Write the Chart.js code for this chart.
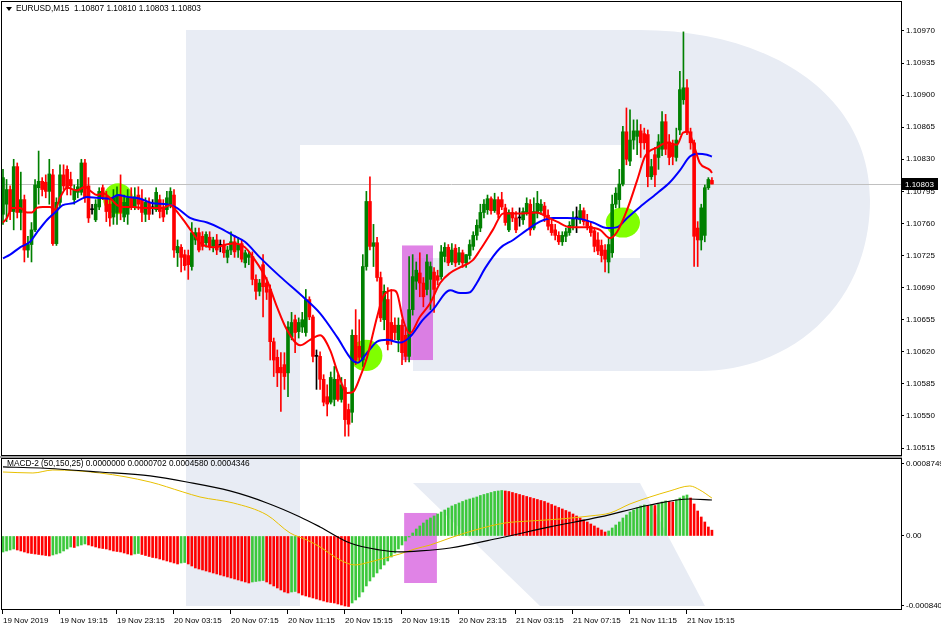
<!DOCTYPE html>
<html>
<head>
<meta charset="utf-8">
<script src="https://cdn.jsdelivr.net/npm/chart.js@4.4.0/dist/chart.umd.min.js"></script>
<style>
  html, body { margin: 0; padding: 0; background: #fff; }
  #wrap { position: relative; width: 941px; height: 630px; overflow: hidden; }
  #wrap svg, #wrap canvas, #sep { position: absolute; left: 0; }
  #priceChart { top: 0; }
  #macdChart { top: 456px; }
  #sep { top: 456px; width: 902px; height: 2px; background: #a0a0a0; }
</style>
</head>
<body>
<div id="wrap">
  <!-- light logo watermark behind the chart -->
  <svg width="941" height="630" style="top:0">
    <path d="M186,30 H640 C770,30 870,95 870,200 C870,305 790,371 700,371 H413 V258 H640 V145 H300 V606 H186 Z" fill="#e8ecf4"/>
    <path d="M413,483 H640 L705,606 H540 Z" fill="#e8ecf4"/>
  </svg>
  <div id="sep"></div>
  <canvas id="priceChart" width="941" height="456"></canvas>
  <canvas id="macdChart" width="941" height="174"></canvas>
</div>
<script>
// EURUSD M15 candles, one entry per bar (bar 0 = 19 Nov 2019 15:15)
const barOpen = [1.10770,1.10781,1.10797,1.10773,1.10822,1.10772,1.10786,1.10731,1.10737,1.10753,1.10799,1.10806,1.10805,1.10795,1.10813,1.10738,1.10783,1.10813,1.10819,1.10808,
1.10786,1.10794,1.10794,1.10826,1.10801,1.10775,1.10764,1.10778,1.10799,1.10789,1.10781,1.10767,1.10772,1.10791,1.10767,1.10770,1.10788,1.10778,1.10791,1.10786,
1.10770,1.10783,1.10777,1.10775,1.10786,1.10778,1.10775,1.10781,1.10791,1.10728,1.10734,1.10726,1.10725,1.10713,1.10742,1.10750,1.10746,1.10739,1.10745,1.10735,
1.10742,1.10736,1.10737,1.10723,1.10731,1.10740,1.10731,1.10738,1.10717,1.10723,1.10724,1.10699,1.10686,1.10715,1.10695,1.10688,1.10631,1.10614,1.10603,1.10606,
1.10597,1.10636,1.10655,1.10642,1.10647,1.10641,1.10677,1.10658,1.10615,1.10615,1.10590,1.10571,1.10565,1.10568,1.10590,1.10568,1.10581,1.10557,1.10554,1.10638,
1.10626,1.10611,1.10713,1.10784,1.10735,1.10739,1.10701,1.10655,1.10677,1.10652,1.10649,1.10633,1.10649,1.10638,1.10615,1.10666,1.10697,1.10706,1.10695,1.10688,
1.10699,1.10707,1.10703,1.10702,1.10724,1.10734,1.10718,1.10733,1.10718,1.10728,1.10717,1.10725,1.10735,1.10747,1.10755,1.10772,1.10775,1.10787,1.10774,1.10786,
1.10786,1.10777,1.10753,1.10772,1.10766,1.10766,1.10764,1.10772,1.10781,1.10755,1.10771,1.10774,1.10779,1.10769,1.10759,1.10753,1.10747,1.10740,1.10746,1.10750,
1.10757,1.10766,1.10764,1.10774,1.10763,1.10757,1.10752,1.10742,1.10736,1.10731,1.10718,1.10728,1.10781,1.10786,1.10803,1.10860,1.10828,1.10851,1.10855,1.10861,
1.10858,1.10857,1.10811,1.10835,1.10832,1.10841,1.10871,1.10849,1.10846,1.10832,1.10862,1.10895,1.10908,1.10860,1.10848,1.10755,1.10742,1.10747,1.10799,1.10807];
const barHigh = [1.10819,1.10808,1.10801,1.10830,1.10826,1.10816,1.10791,1.10746,1.10761,1.10808,1.10839,1.10810,1.10813,1.10830,1.10819,1.10788,1.10824,1.10824,1.10823,1.10816,
1.10802,1.10808,1.10830,1.10830,1.10810,1.10781,1.10786,1.10799,1.10802,1.10795,1.10788,1.10797,1.10800,1.10813,1.10791,1.10797,1.10799,1.10799,1.10800,1.10797,
1.10788,1.10788,1.10786,1.10799,1.10791,1.10786,1.10795,1.10799,1.10797,1.10742,1.10737,1.10731,1.10731,1.10761,1.10755,1.10755,1.10751,1.10751,1.10751,1.10745,
1.10748,1.10742,1.10742,1.10735,1.10751,1.10747,1.10745,1.10742,1.10731,1.10729,1.10729,1.10704,1.10699,1.10726,1.10701,1.10693,1.10635,1.10622,1.10619,1.10619,
1.10653,1.10663,1.10660,1.10657,1.10663,1.10688,1.10680,1.10660,1.10622,1.10620,1.10595,1.10584,1.10598,1.10604,1.10595,1.10592,1.10590,1.10563,1.10644,1.10666,
1.10655,1.10726,1.10795,1.10811,1.10759,1.10745,1.10707,1.10693,1.10690,1.10688,1.10657,1.10657,1.10655,1.10646,1.10724,1.10726,1.10718,1.10728,1.10701,1.10726,
1.10718,1.10712,1.10709,1.10736,1.10739,1.10737,1.10738,1.10737,1.10734,1.10731,1.10726,1.10742,1.10751,1.10764,1.10781,1.10786,1.10791,1.10789,1.10793,1.10789,
1.10794,1.10781,1.10775,1.10777,1.10773,1.10777,1.10777,1.10788,1.10786,1.10788,1.10795,1.10786,1.10783,1.10775,1.10764,1.10759,1.10751,1.10751,1.10755,1.10762,
1.10773,1.10778,1.10781,1.10777,1.10770,1.10762,1.10755,1.10750,1.10742,1.10737,1.10745,1.10791,1.10799,1.10819,1.10866,1.10886,1.10884,1.10873,1.10873,1.10868,
1.10864,1.10862,1.10830,1.10843,1.10857,1.10882,1.10879,1.10857,1.10851,1.10864,1.10926,1.10969,1.10917,1.10864,1.10851,1.10762,1.10781,1.10802,1.10810,1.10810];
const barLow = [1.10759,1.10762,1.10764,1.10753,1.10766,1.10753,1.10718,1.10723,1.10718,1.10751,1.10781,1.10790,1.10788,1.10781,1.10736,1.10736,1.10778,1.10797,1.10791,1.10791,
1.10781,1.10788,1.10791,1.10783,1.10761,1.10770,1.10762,1.10775,1.10786,1.10762,1.10757,1.10759,1.10759,1.10764,1.10762,1.10759,1.10775,1.10775,1.10775,1.10762,
1.10762,1.10764,1.10770,1.10773,1.10766,1.10762,1.10770,1.10777,1.10723,1.10713,1.10707,1.10709,1.10699,1.10709,1.10737,1.10729,1.10731,1.10734,1.10731,1.10729,
1.10726,1.10729,1.10723,1.10717,1.10726,1.10723,1.10723,1.10718,1.10712,1.10715,1.10693,1.10677,1.10681,1.10658,1.10677,1.10611,1.10593,1.10582,1.10555,1.10579,
1.10571,1.10633,1.10619,1.10635,1.10641,1.10637,1.10655,1.10609,1.10579,1.10579,1.10561,1.10550,1.10563,1.10561,1.10566,1.10565,1.10528,1.10528,1.10543,1.10606,
1.10609,1.10604,1.10709,1.10731,1.10713,1.10697,1.10653,1.10644,1.10622,1.10628,1.10633,1.10620,1.10606,1.10609,1.10609,1.10660,1.10688,1.10680,1.10669,1.10682,
1.10666,1.10663,1.10693,1.10699,1.10718,1.10714,1.10715,1.10713,1.10715,1.10712,1.10712,1.10721,1.10731,1.10742,1.10751,1.10766,1.10770,1.10770,1.10772,1.10766,
1.10775,1.10758,1.10751,1.10762,1.10750,1.10757,1.10759,1.10769,1.10747,1.10753,1.10766,1.10770,1.10762,1.10753,1.10747,1.10742,1.10737,1.10736,1.10740,1.10747,
1.10753,1.10750,1.10760,1.10758,1.10753,1.10746,1.10729,1.10726,1.10718,1.10707,1.10706,1.10723,1.10777,1.10777,1.10801,1.10824,1.10823,1.10841,1.10835,1.10832,
1.10841,1.10800,1.10808,1.10800,1.10819,1.10834,1.10835,1.10824,1.10824,1.10828,1.10857,1.10890,1.10857,1.10841,1.10713,1.10713,1.10731,1.10740,1.10797,1.10803];
const barClose = [1.10810,1.10797,1.10773,1.10822,1.10772,1.10786,1.10731,1.10737,1.10753,1.10802,1.10806,1.10797,1.10795,1.10814,1.10738,1.10783,1.10813,1.10801,1.10799,1.10801,
1.10797,1.10800,1.10826,1.10788,1.10766,1.10775,1.10781,1.10795,1.10789,1.10773,1.10766,1.10788,1.10791,1.10772,1.10783,1.10788,1.10778,1.10789,1.10781,1.10772,
1.10783,1.10770,1.10777,1.10794,1.10773,1.10767,1.10788,1.10795,1.10731,1.10735,1.10723,1.10714,1.10715,1.10750,1.10750,1.10731,1.10735,1.10748,1.10735,1.10742,
1.10731,1.10736,1.10728,1.10731,1.10740,1.10729,1.10737,1.10721,1.10728,1.10726,1.10699,1.10686,1.10695,1.10691,1.10685,1.10631,1.10611,1.10597,1.10597,1.10593,
1.10647,1.10652,1.10641,1.10652,1.10655,1.10677,1.10658,1.10615,1.10615,1.10590,1.10565,1.10563,1.10592,1.10590,1.10568,1.10584,1.10546,1.10541,1.10638,1.10611,
1.10614,1.10713,1.10784,1.10735,1.10739,1.10701,1.10657,1.10686,1.10628,1.10633,1.10641,1.10649,1.10619,1.10615,1.10666,1.10702,1.10709,1.10695,1.10680,1.10718,
1.10713,1.10688,1.10698,1.10729,1.10734,1.10717,1.10731,1.10717,1.10728,1.10717,1.10726,1.10737,1.10747,1.10758,1.10772,1.10781,1.10787,1.10774,1.10786,1.10770,
1.10778,1.10761,1.10772,1.10766,1.10753,1.10766,1.10773,1.10782,1.10753,1.10773,1.10782,1.10781,1.10769,1.10757,1.10750,1.10747,1.10740,1.10747,1.10751,1.10758,
1.10765,1.10766,1.10774,1.10762,1.10757,1.10750,1.10735,1.10730,1.10725,1.10721,1.10737,1.10781,1.10793,1.10803,1.10860,1.10830,1.10851,1.10861,1.10861,1.10848,
1.10848,1.10811,1.10822,1.10813,1.10849,1.10871,1.10841,1.10832,1.10833,1.10851,1.10906,1.10908,1.10860,1.10848,1.10746,1.10742,1.10777,1.10799,1.10808,1.10803];

// moving averages: [bar position, price]
const fastMaBars = [0,1.1,2.5,4.8,6.7,8.1,9.5,11.2,13.2,14.6,16,18,20.8,23,24.4,26.4,28.1,30,32,33.7,36.5,39.3,42.1,44.9,46.9,47.7,50.2,53,55.3,59,
64.6,67.9,70.2,74.1,76.9,79.7,83.4,86.2,89,91.8,94,96.6,98.2,100.2,102.2,105,106.7,109.5,110.6,112.3,114.2,117,119.9,122.7,125.5,128.3,131.9,133.9,137.5,140.4,
146,149.9,152.7,155.5,159.2,163.9,167.6,170.4,172.4,175.2,178,180.2,183.6,186.4,189.2,190.9,192.3,193.7,195.6,198.5,199];
const fastMaVals = [1.10761,1.10766,1.10777,1.10777,1.10772,1.10772,1.10777,1.10778,1.10778,1.10775,1.10788,1.10799,1.10796,1.10800,1.10796,1.10791,1.10793,1.10788,1.10780,1.10778,
1.10778,1.10777,1.10777,1.10777,1.10780,1.10778,1.10766,1.10751,1.10739,1.10734,1.10738,1.10734,1.10723,1.10698,1.10669,1.10644,1.10627,1.10633,1.10638,1.10622,
1.10597,1.10575,1.10576,1.10592,1.10614,1.10658,1.10680,1.10687,1.10684,1.10655,1.10640,1.10658,1.10673,1.10695,1.10706,1.10712,1.10720,1.10731,1.10753,1.10771,
1.10771,1.10772,1.10767,1.10762,1.10756,1.10756,1.10753,1.10744,1.10751,1.10775,1.10807,1.10833,1.10843,1.10848,1.10846,1.10859,1.10860,1.10848,1.10826,1.10818,1.10815];
const slowMaBars = [0,2,4.8,7.6,9.5,12.4,14.6,16.8,19.6,23.6,26.4,30,32.3,34.8,38.5,42.1,46,48.8,52.5,57.3,60.9,64.6,67.9,72.1,77.8,84.2,89,93.8,98,99.6,
102.2,105,107.8,111.4,114.2,117.9,120.7,125.5,128.3,131.1,133,135.3,139.5,143.2,147.1,150.7,154.4,158.3,162,165.6,169.5,172.4,175.2,178.8,183.6,187.2,190,192.8,194.8,197.6,199];
const slowMaVals = [1.10722,1.10726,1.10734,1.10740,1.10750,1.10764,1.10772,1.10780,1.10782,1.10789,1.10788,1.10787,1.10791,1.10789,1.10787,1.10782,1.10781,1.10777,1.10766,1.10761,
1.10755,1.10747,1.10740,1.10723,1.10702,1.10680,1.10662,1.10636,1.10611,1.10608,1.10619,1.10631,1.10633,1.10630,1.10636,1.10655,1.10666,1.10687,1.10684,1.10685,
1.10695,1.10711,1.10733,1.10742,1.10753,1.10762,1.10766,1.10766,1.10765,1.10761,1.10755,1.10756,1.10766,1.10778,1.10793,1.10805,1.10818,1.10833,1.10836,1.10835,1.10833];

// MACD-2 (50,150,25) histogram, one value per bar
const macdHist = [-0.0001933,-0.0001812,-0.0001691,-0.0001570,-0.0001691,-0.0001812,-0.0001933,-0.0002054,-0.0002114,-0.0002174,
-0.0002235,-0.0002295,-0.0002356,-0.0002416,-0.0002295,-0.0002174,-0.0002054,-0.0001812,-0.0001570,-0.0001329,
-0.0001389,-0.0001208,-0.0001087,-0.0000966,-0.0001087,-0.0001208,-0.0001329,-0.0001450,-0.0001510,-0.0001570,
-0.0001691,-0.0001812,-0.0001872,-0.0001933,-0.0002054,-0.0002174,-0.0002295,-0.0002174,-0.0002114,-0.0002235,
-0.0002356,-0.0002476,-0.0002597,-0.0002658,-0.0002778,-0.0002899,-0.0003020,-0.0003141,-0.0003262,-0.0003382,
-0.0003262,-0.0003201,-0.0003382,-0.0003624,-0.0003866,-0.0003986,-0.0004107,-0.0004228,-0.0004349,-0.0004470,
-0.0004590,-0.0004711,-0.0004832,-0.0004953,-0.0005074,-0.0005194,-0.0005315,-0.0005436,-0.0005557,-0.0005678,
-0.0005557,-0.0005496,-0.0005436,-0.0005376,-0.0005557,-0.0005798,-0.0006040,-0.0006282,-0.0006523,-0.0006765,
-0.0006886,-0.0006765,-0.0006704,-0.0006886,-0.0007127,-0.0007248,-0.0007369,-0.0007490,-0.0007610,-0.0007731,
-0.0007852,-0.0007973,-0.0008033,-0.0008094,-0.0008214,-0.0008335,-0.0008456,-0.0008516,-0.0008094,-0.0007731,
-0.0007369,-0.0006765,-0.0006040,-0.0005436,-0.0004953,-0.0004470,-0.0003986,-0.0003503,-0.0003020,-0.0002537,
-0.0002054,-0.0001570,-0.0001087,-0.0000604,-0.0000121,0.0000362,0.0000846,0.0001208,0.0001570,0.0001933,
0.0002174,0.0002416,0.0002658,0.0002899,0.0003141,0.0003382,0.0003624,0.0003805,0.0003986,0.0004168,
0.0004349,0.0004470,0.0004590,0.0004711,0.0004892,0.0005013,0.0005134,0.0005255,0.0005376,0.0005436,
0.0005496,0.0005436,0.0005376,0.0005255,0.0005134,0.0005013,0.0004892,0.0004772,0.0004651,0.0004530,
0.0004409,0.0004288,0.0004168,0.0003986,0.0003805,0.0003624,0.0003443,0.0003262,0.0003080,0.0002899,
0.0002658,0.0002416,0.0002174,0.0001933,0.0001691,0.0001450,0.0001208,0.0000966,0.0000725,0.0000483,
0.0000604,0.0000966,0.0001329,0.0001691,0.0002174,0.0002537,0.0002899,0.0003141,0.0003382,0.0003624,
0.0003745,0.0003684,0.0003745,0.0003684,0.0003866,0.0004107,0.0004228,0.0004168,0.0004107,0.0004349,
0.0004590,0.0004832,0.0004953,0.0004590,0.0003866,0.0003020,0.0002295,0.0001691,0.0001087,0.0000702];
const macdBars = [0,8.4,14,27.2,41.3,50.5,55.3,64.6,74.1,80.6,85.3,89,94.6,98.8,103,107.2,111.4,115.6,119.9,125.5,132.5,140.9,147.9,156.4,164.8,170.4,176,181.6,187.2,192.8,195.6,199];
const macdVals = [0.000773,0.000761,0.000797,0.000761,0.000652,0.000532,0.000471,0.000399,0.000254,0.000036,-0.000048,-0.000133,-0.000290,-0.000350,-0.000314,-0.000266,
-0.000217,-0.000157,-0.000109,-0.000024,0.000072,0.000157,0.000181,0.000205,0.000242,0.000278,0.000387,0.000471,0.000544,0.000604,0.000556,0.000458];
const signalBars = [0,10.4,27.2,41.3,51.6,63.7,74.1,83.4,89,97.4,105.8,111.4,117.1,125.5,139.5,153.5,167.6,181.6,192.8,199];
const signalVals = [0.000834,0.000821,0.000773,0.000725,0.000652,0.000544,0.000399,0.000230,0.000109,-0.000085,-0.000169,-0.000193,-0.000181,-0.000145,-0.000024,0.000109,0.000230,0.000374,0.000447,0.0004346];

// axis ticks
const priceTicks = [1.10515,1.10550,1.10585,1.10620,1.10655,1.10690,1.10725,1.10760,1.10795,1.10830,1.10865,1.10900,1.10935,1.10970];
const macdTicks = [-0.000840, 0, 0.0008749];
const macdTickLabels = ['-0.000840', '0.00', '0.0008749'];
const timeTickBars = [0,16,32,48,64,80,96,112,128,144,160,176,192];
const timeTickLabels = ['19 Nov 2019','19 Nov 19:15','19 Nov 23:15','20 Nov 03:15','20 Nov 07:15','20 Nov 11:15',
  '20 Nov 15:15','20 Nov 19:15','20 Nov 23:15','21 Nov 03:15','21 Nov 07:15','21 Nov 11:15','21 Nov 15:15'];

const priceTitle = 'EURUSD,M15  1.10807 1.10810 1.10803 1.10803';
const macdTitle = 'MACD-2 (50,150,25) 0.0000000 0.0000702 0.0004580 0.0004346';
const lastPrice = 1.10803;

const bullColor = '#008000';
const bearColor = '#ff0000';
const histUp = '#3cc83c';
const histDown = '#ff0000';

Chart.defaults.font.family = "Tahoma, 'Liberation Sans', Arial, sans-serif";
Chart.defaults.font.size = 8;
Chart.defaults.color = '#000';

const barIndex = barOpen.map((_, i) => i);
const candleColor = i => barClose[i] > barOpen[i] ? bullColor : (barClose[i] < barOpen[i] ? bearColor : '#000');
const xMin = -0.28, xMax = 252.07;

function pts(xs, ys) { return xs.map((b, i) => ({ x: b, y: ys[i] })); }
// keep the plot area where the panel frame is, labels may overhang
function noPad(s) { s.paddingTop = 0; s.paddingBottom = 0; s.paddingLeft = 0; s.paddingRight = 0; }

// marks drawn on the price panel behind the candles
const priceOverlay = {
  id: 'priceOverlay',
  beforeDatasetsDraw(chart) {
    const { ctx, chartArea: a, scales: { x, y } } = chart;
    ctx.save();
    const py = Math.round(y.getPixelForValue(lastPrice)) + 0.5;
    ctx.strokeStyle = '#c0c0c0';
    ctx.lineWidth = 1;
    ctx.beginPath(); ctx.moveTo(a.left, py); ctx.lineTo(a.right, py); ctx.stroke();

    ctx.fillStyle = 'rgba(214,90,222,0.75)';
    const x0 = x.getPixelForValue(112), x1 = x.getPixelForValue(120.7);
    const y0 = y.getPixelForValue(1.10736), y1 = y.getPixelForValue(1.10611);
    ctx.fillRect(x0, y0, x1 - x0, y1 - y0);

    ctx.fillStyle = 'rgb(128,255,0)';
    [[32.3, 1.10787, 4.2, 0.000170], [101.9, 1.10616, 4.6, 0.000170], [174, 1.10761, 4.8, 0.000164]].forEach(([b, p, rb, rp]) => {
      const cx = x.getPixelForValue(b), cy = y.getPixelForValue(p);
      const rx = x.getPixelForValue(b + rb) - cx, ry = cy - y.getPixelForValue(p + rp);
      ctx.beginPath(); ctx.ellipse(cx, cy, rx, ry, 0, 0, Math.PI * 2); ctx.fill();
    });
    ctx.restore();
  },
  afterDraw(chart) {
    const { ctx, chartArea: a, scales: { y } } = chart;
    ctx.save();
    ctx.strokeStyle = '#000';
    ctx.lineWidth = 1;
    ctx.strokeRect(a.left - 0.5, a.top - 0.5, a.right - a.left + 1, a.bottom - a.top + 1);
    // title
    ctx.fillStyle = '#000';
    ctx.beginPath(); ctx.moveTo(6, 7); ctx.lineTo(12, 7); ctx.lineTo(9, 11); ctx.closePath(); ctx.fill();
    ctx.font = "8.3px Tahoma, 'Liberation Sans', Arial, sans-serif";
    ctx.textBaseline = 'middle';
    ctx.textAlign = 'left';
    ctx.fillText(priceTitle, 16, 9);
    // current price box
    const py = Math.round(y.getPixelForValue(lastPrice));
    ctx.fillRect(a.right + 1, py - 6, 36, 12);
    ctx.fillStyle = '#fff';
    ctx.font = "8px Tahoma, 'Liberation Sans', Arial, sans-serif";
    ctx.fillText(lastPrice.toFixed(5), a.right + 4, py + 0.5);
    ctx.restore();
  }
};

const macdOverlay = {
  id: 'macdOverlay',
  beforeDatasetsDraw(chart) {
    const { ctx, chartArea: a, scales: { x, y } } = chart;
    ctx.save();
    ctx.fillStyle = 'rgba(214,90,222,0.75)';
    const x0 = x.getPixelForValue(112.6), x1 = x.getPixelForValue(121.8);
    const y0 = y.getPixelForValue(0.000278), y1 = y.getPixelForValue(-0.000568);
    ctx.fillRect(x0, y0, x1 - x0, y1 - y0);
    ctx.fillStyle = '#000';
    ctx.font = "8.3px Tahoma, 'Liberation Sans', Arial, sans-serif";
    ctx.textBaseline = 'middle';
    ctx.fillText(macdTitle, a.left + 5, a.top + 6);
    ctx.restore();
  },
  afterDraw(chart) {
    const { ctx, chartArea: a } = chart;
    ctx.save();
    ctx.strokeStyle = '#000';
    ctx.lineWidth = 1;
    ctx.strokeRect(a.left - 0.5, a.top + 0.5, a.right - a.left + 1, a.bottom - a.top);
    ctx.restore();
  }
};

new Chart(document.getElementById('priceChart'), {
  type: 'bar',
  data: {
    datasets: [
      { type: 'line', label: 'fast MA', data: pts(fastMaBars, fastMaVals), borderColor: '#ff0000', borderWidth: 2,
        pointRadius: 0, cubicInterpolationMode: 'monotone', order: 0 },
      { type: 'line', label: 'slow MA', data: pts(slowMaBars, slowMaVals), borderColor: '#0000ff', borderWidth: 2,
        pointRadius: 0, cubicInterpolationMode: 'monotone', order: 1 },
      { label: 'body', data: barIndex.map(i => ({ x: i, y: [barOpen[i], barClose[i]] })),
        backgroundColor: barIndex.map(candleColor), barThickness: 3, minBarLength: 1, order: 2 },
      { label: 'wick', data: barIndex.map(i => ({ x: i, y: [barLow[i], barHigh[i]] })),
        backgroundColor: barIndex.map(candleColor), barThickness: 1, order: 3 }
    ]
  },
  options: {
    responsive: false,
    animation: false,
    devicePixelRatio: 1,
    layout: { padding: { left: 2, top: 2, right: 0, bottom: 1 } },
    datasets: { bar: { grouped: false } },
    plugins: { legend: { display: false }, tooltip: { enabled: false } },
    scales: {
      x: { type: 'linear', min: xMin, max: xMax, offset: false, bounds: 'data', display: false,
        grid: { offset: false } },
      y: {
        position: 'right', min: 1.105074, max: 1.110016, bounds: 'data',
        afterBuildTicks: s => { s.ticks = priceTicks.map(v => ({ value: v })); },
        afterFit: s => { s.width = 40; noPad(s); },
        ticks: { autoSkip: false, padding: 2, callback: v => Number(v).toFixed(5) },
        grid: { drawOnChartArea: false, tickLength: 3, color: '#000' },
        border: { color: '#000' }
      }
    }
  },
  plugins: [priceOverlay]
});

new Chart(document.getElementById('macdChart'), {
  type: 'bar',
  data: {
    datasets: [
      { type: 'line', label: 'signal', data: pts(signalBars, signalVals), borderColor: '#000', borderWidth: 1.2,
        pointRadius: 0, cubicInterpolationMode: 'monotone', order: 0 },
      { type: 'line', label: 'macd', data: pts(macdBars, macdVals), borderColor: '#e8c000', borderWidth: 1,
        pointRadius: 0, cubicInterpolationMode: 'monotone', order: 1 },
      { label: 'histogram', data: barIndex.map(i => ({ x: i, y: macdHist[i] })),
        backgroundColor: macdHist.map((v, i) => (i === 0 || v > macdHist[i - 1]) ? histUp : histDown),
        barThickness: 2, order: 2 }
    ]
  },
  options: {
    responsive: false,
    animation: false,
    devicePixelRatio: 1,
    layout: { padding: { left: 2, top: 2, right: 0, bottom: 0 } },
    datasets: { bar: { grouped: false } },
    plugins: { legend: { display: false }, tooltip: { enabled: false } },
    scales: {
      x: {
        type: 'linear', min: xMin, max: xMax, offset: false, bounds: 'data',
        afterBuildTicks: s => { s.ticks = timeTickBars.map(v => ({ value: v })); },
        afterFit: s => { s.height = 21; noPad(s); },
        ticks: { autoSkip: false, maxRotation: 0, align: 'start', padding: 2,
          callback: v => timeTickLabels[timeTickBars.indexOf(v)] },
        grid: { drawOnChartArea: false, offset: false, tickLength: 5, color: '#000' },
        border: { color: '#000' }
      },
      y: {
        position: 'right', min: -0.000882, max: 0.000942, bounds: 'data',
        afterBuildTicks: s => { s.ticks = macdTicks.map(v => ({ value: v })); },
        afterFit: s => { s.width = 40; noPad(s); },
        ticks: { autoSkip: false, padding: 2, callback: (v, i) => macdTickLabels[i] },
        grid: { drawOnChartArea: false, tickLength: 3, color: '#000' },
        border: { color: '#000' }
      }
    }
  },
  plugins: [macdOverlay]
});
</script>
</body>
</html>
